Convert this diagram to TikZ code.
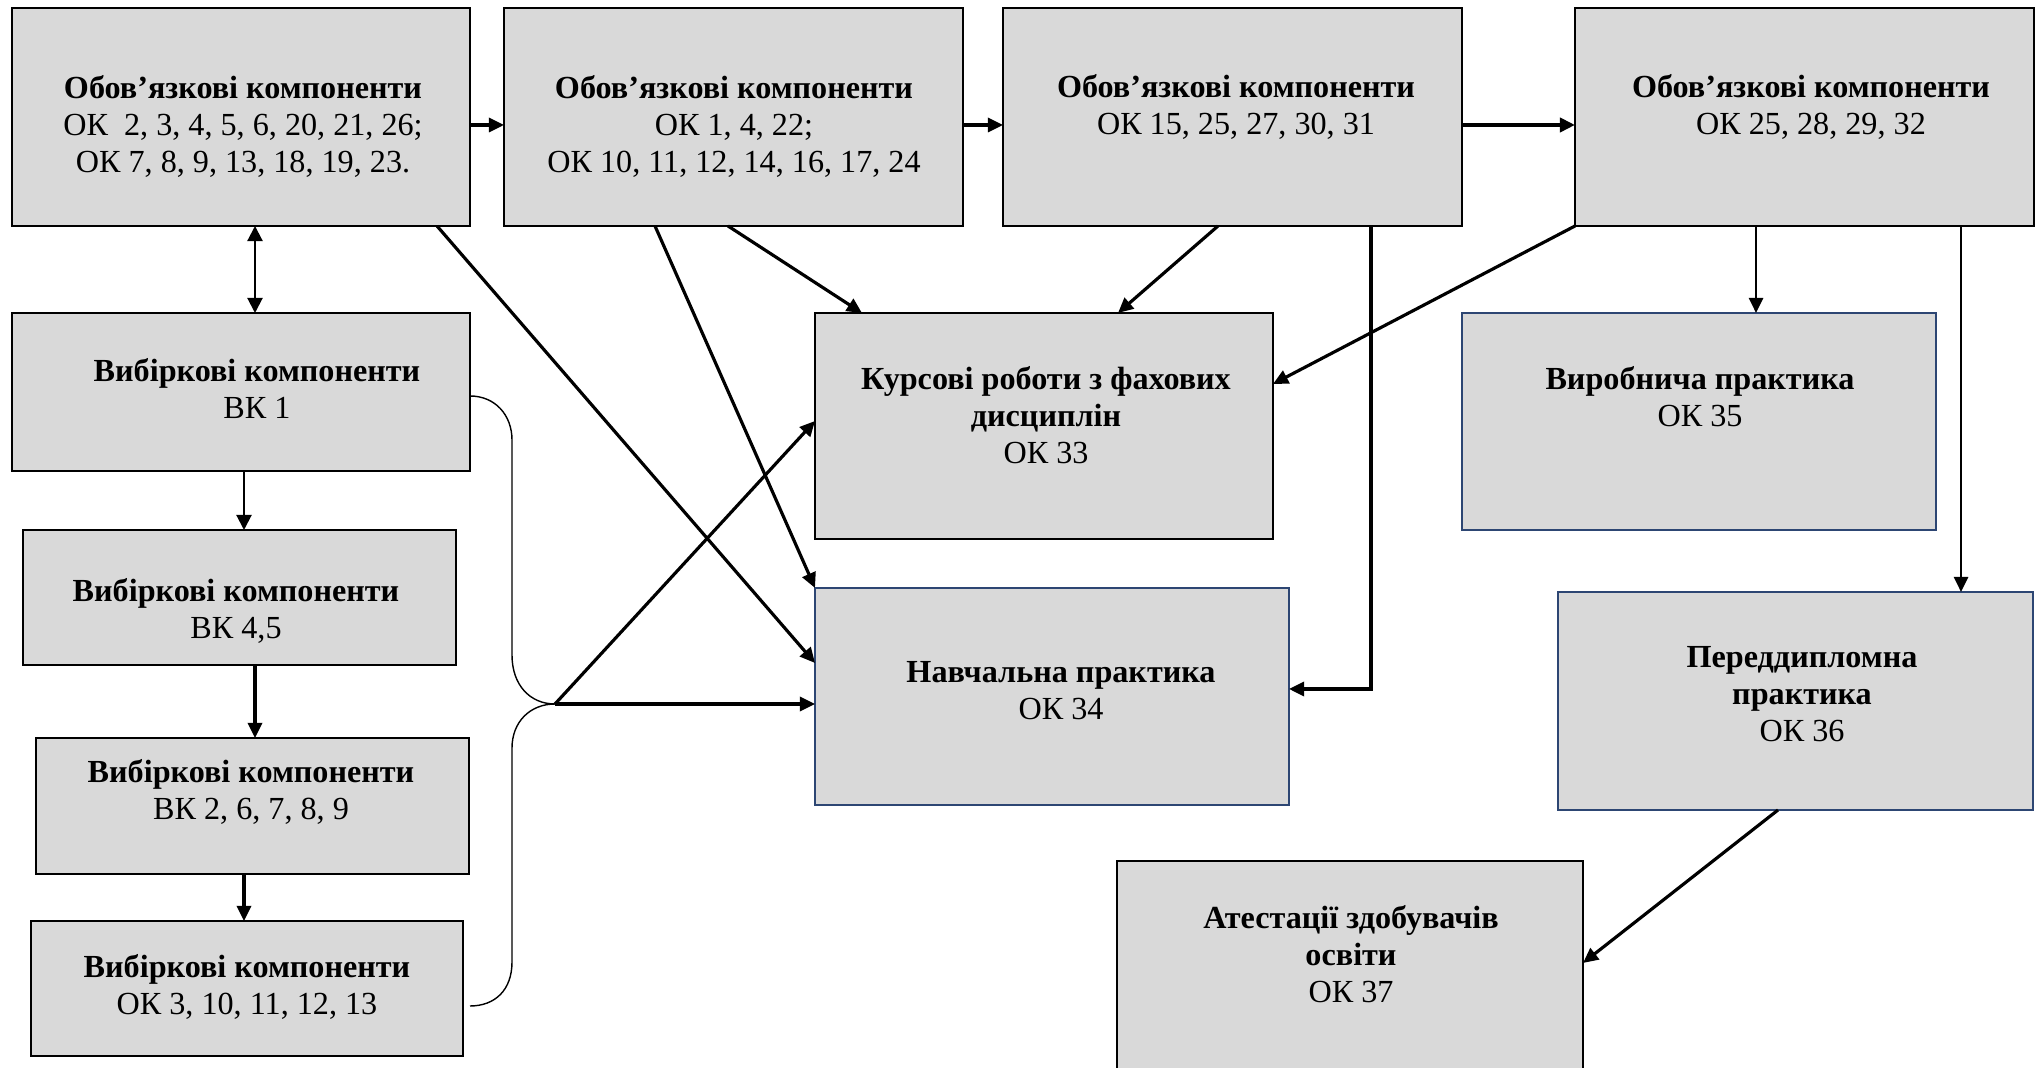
\documentclass[tikz,border=0pt]{standalone}
\usepackage{fontspec}
\setmainfont{Liberation Serif}
\usetikzlibrary{arrows.meta}
\definecolor{boxgray}{RGB}{217,217,217}
\definecolor{navyline}{RGB}{45,70,115}
\begin{document}
\begin{tikzpicture}[x=0.01cm,y=-0.01cm,
  box/.style={draw=black, line width=0.7pt, fill=boxgray, rectangle, inner sep=0pt, outer sep=0pt},
  bluebox/.style={box, draw=navyline},
  lbl/.style={align=center, inner sep=0pt, font=\fontsize{9.15}{10.5}\selectfont},
  arr/.style={line width=0.9pt, -{Triangle[length=4.3pt,width=4pt]}},
  thinarr/.style={line width=0.6pt, -{Triangle[length=4.3pt,width=4.3pt]}},
  bracestyle/.style={line width=0.4pt}
]
\useasboundingbox[fill=white] (0,0) rectangle (2042,1068);

% boxes
\node[box, minimum width=458*0.01cm, minimum height=218*0.01cm] (A) at (241,117) {};
\node[box, minimum width=459*0.01cm, minimum height=218*0.01cm] (B) at (733.5,117) {};
\node[box, minimum width=459*0.01cm, minimum height=218*0.01cm] (C) at (1232.5,117) {};
\node[box, minimum width=459*0.01cm, minimum height=218*0.01cm] (D) at (1804.5,117) {};
\node[box, minimum width=458*0.01cm, minimum height=158*0.01cm] (E) at (241,392) {};
\node[box, minimum width=433*0.01cm, minimum height=135*0.01cm] (F) at (239.5,597.5) {};
\node[box, minimum width=433*0.01cm, minimum height=136*0.01cm] (G) at (252.5,806) {};
\node[box, minimum width=432*0.01cm, minimum height=135*0.01cm] (H) at (247,988.5) {};
\node[box, minimum width=458*0.01cm, minimum height=226*0.01cm] (K) at (1044,426) {};
\node[bluebox, minimum width=474*0.01cm, minimum height=217*0.01cm] (N) at (1052,696.5) {};
\node[bluebox, minimum width=474*0.01cm, minimum height=217*0.01cm] (V) at (1699,421.5) {};
\node[bluebox, minimum width=475*0.01cm, minimum height=218*0.01cm] (P) at (1795.5,701) {};
\node[box, draw=none, minimum width=466*0.01cm, minimum height=207*0.01cm] (T) at (1350,964.5) {};
\draw[line width=0.7pt] (T.south west) -- (T.north west) -- (T.north east) -- (T.south east);

% texts
\node[lbl] (At) at (243,128) {\textbf{Обов’язкові компоненти}\strut\\ ОК\ \ 2, 3, 4, 5, 6, 20, 21, 26;\strut\\ ОК 7, 8, 9, 13, 18, 19, 23.\strut};
\node[lbl] (Bt) at (734,128) {\textbf{Обов’язкові компоненти}\strut\\ ОК 1, 4, 22;\strut\\ ОК 10, 11, 12, 14, 16, 17, 24\strut};
\node[lbl] (Ct) at (1236,109) {\textbf{Обов’язкові компоненти}\strut\\ ОК 15, 25, 27, 30, 31\strut};
\node[lbl] (Dt) at (1811,109) {\textbf{Обов’язкові компоненти}\strut\\ ОК 25, 28, 29, 32\strut};
\node[lbl] (Et) at (257,392.5) {\textbf{Вибіркові компоненти}\strut\\ ВК 1\strut};
\node[lbl] (Ft) at (236,612.5) {\textbf{Вибіркові компоненти}\strut\\ ВК 4,5\strut};
\node[lbl] (Gt) at (251,794) {\textbf{Вибіркові компоненти}\strut\\ ВК 2, 6, 7, 8, 9\strut};
\node[lbl] (Ht) at (247,988.5) {\textbf{Вибіркові компоненти}\strut\\ ОК 3, 10, 11, 12, 13\strut};
\node[lbl] (Kt) at (1046,419) {\textbf{Курсові роботи з фахових}\strut\\ \textbf{дисциплін}\strut\\ ОК 33\strut};
\node[lbl] (Nt) at (1061,693.5) {\textbf{Навчальна практика}\strut\\ ОК 34\strut};
\node[lbl] (Vt) at (1700,400.5) {\textbf{Виробнича практика}\strut\\ ОК 35\strut};
\node[lbl] (Pt) at (1802,697.5) {\textbf{Переддипломна}\strut\\ \textbf{практика}\strut\\ ОК 36\strut};
\node[lbl] (Tt) at (1351,958.5) {\textbf{Атестації здобувачів}\strut\\ \textbf{освіти}\strut\\ ОК 37\strut};

% top row arrows
\draw[arr] (A.east |- 0,125) -- (B.west |- 0,125);
\draw[arr] (B.east |- 0,125) -- (C.west |- 0,125);
\draw[arr, line width=1.1pt] (C.east |- 0,125) -- (D.west |- 0,125);

% left column
\draw[thinarr, {Triangle[length=4.3pt,width=4.3pt]}-{Triangle[length=4.3pt,width=4.3pt]}] (255,0 |- A.south) -- (255,0 |- E.north);
\draw[thinarr] (244,0 |- E.south) -- (244,0 |- F.north);
\draw[arr] (255,0 |- F.south) -- (255,0 |- G.north);
\draw[arr] (244,0 |- G.south) -- (244,0 |- H.north);

% brace
\coordinate (tip) at (555,704);
\draw[bracestyle] (E.east |- 0,396) .. controls (495,396) and (512,415) .. (512,440) -- (512,655) .. controls (512,685) and (530,704) .. (tip);
\draw[bracestyle] (tip) .. controls (530,704) and (512,722) .. (512,748) -- (512,962) .. controls (512,990) and (495,1006) .. (470,1006);
\draw[arr] (tip) -- (N.west |- tip);
\draw[arr] (tip) -- (K.west |- 0,421);

% diagonals into K and N
\draw[arr] (437,0 |- A.south) -- (N.west |- 0,663);
\draw[arr] (655,0 |- B.south) -- (N.north west);
\draw[arr] (728,0 |- B.south) -- (862,0 |- K.north);
\draw[arr] (1218,0 |- C.south) -- (1118,0 |- K.north);
\draw[arr] (1371,0 |- C.south) -- (1371,689) -- (N.east |- 0,689);
\draw[arr] (D.south west) -- (K.east |- 0,384);

% right side
\draw[arr, line width=0.8pt] (1756,0 |- D.south) -- (1756,0 |- V.north);
\draw[arr, line width=0.8pt] (1961,0 |- D.south) -- (1961,0 |- P.north);
\draw[arr] (1778,0 |- P.south) -- (T.east |- 0,963);
\end{tikzpicture}
\end{document}
